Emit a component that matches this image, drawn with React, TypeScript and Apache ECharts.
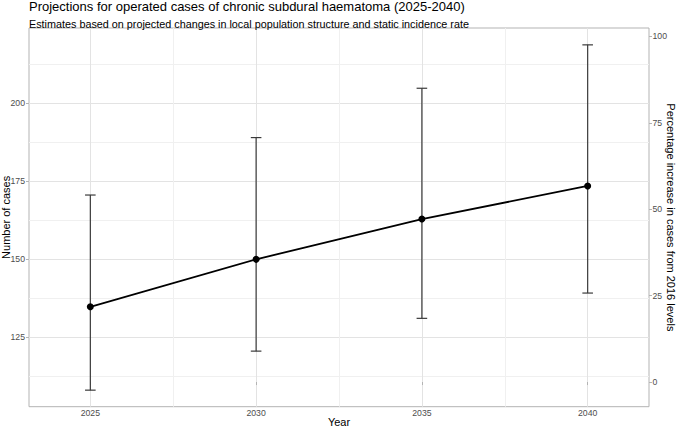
import React, { useEffect, useRef } from "react";
import * as echarts from "echarts";

const TITLE = "Projections for operated cases of chronic subdural haematoma (2025-2040)";
const SUBTITLE = "Estimates based on projected changes in local population structure and static incidence rate";

const years = [2025, 2030, 2035, 2040];
const cases = [134.8, 150.0, 162.9, 173.5];
const lower = [108.1, 120.6, 131.1, 139.2];
const upper = [170.6, 189.0, 204.8, 218.7];
const baseline2016 = 110.7;

const xTicks = [2025, 2030, 2035, 2040];
const xMinor = [2027.5, 2032.5, 2037.5];
const yTicks = [125, 150, 175, 200];
const yMinor = [112.5, 137.5, 162.5, 187.5, 212.5];
const pctTicks = [0, 25, 50, 75, 100];

const X_MIN = 2023.15;
const X_MAX = 2041.85;
const Y_MIN = 102.8;
const Y_MAX = 224.1;
const P_MIN = (Y_MIN / baseline2016 - 1) * 100;
const P_MAX = (Y_MAX / baseline2016 - 1) * 100;

const FONT = "'Liberation Sans', Arial, Helvetica, sans-serif";
const fmt = (v: number) => String(v);

export default function App() {
  const ref = useRef<HTMLDivElement>(null);
  useEffect(() => {
    if (!ref.current) return;
    const chart = echarts.init(ref.current, undefined, { renderer: "svg" });
    const errData = years.map((y, i) => [y, lower[i], upper[i]]);
    const lineData = years.map((y, i) => [y, cases[i]]);
    const option: any = {
      animation: false,
      textStyle: { fontFamily: FONT },
      title: [
        { text: TITLE, left: 29, top: 0, padding: 0, textStyle: { fontFamily: FONT, fontSize: 13, fontWeight: "normal", color: "#000" } },
        { text: SUBTITLE, left: 29, top: 18, padding: 0, textStyle: { fontFamily: FONT, fontSize: 10.8, fontWeight: "normal", color: "#000" } },
      ],
      grid: {
        left: 29, top: 28, width: 620, height: 378.7,
        containLabel: false, outerBoundsMode: "none",
        show: true, borderColor: "#b3b3b3", borderWidth: 1, backgroundColor: "transparent",
      },
      xAxis: [
        {
          type: "value", min: X_MIN, max: X_MAX, position: "bottom",
          name: "Year", nameLocation: "middle", nameGap: 10, nameMoveOverlap: false,
          nameTextStyle: { fontFamily: FONT, fontSize: 11, color: "#000" },
          axisLine: { show: false },
          axisTick: { show: true, length: 3, lineStyle: { color: "#b3b3b3" }, customValues: xTicks },
          axisLabel: { customValues: xTicks, formatter: fmt, fontFamily: FONT, fontSize: 8.7, color: "#4d4d4d", margin: 2 },
          splitLine: { show: true, lineStyle: { color: "#e3e3e3", width: 1 } },
        },
        {
          type: "value", min: X_MIN, max: X_MAX, position: "bottom",
          axisLine: { show: false },
          axisTick: { show: false, customValues: xMinor },
          axisLabel: { show: false, customValues: xMinor },
          splitLine: { show: true, lineStyle: { color: "#f0f0f0", width: 1 } },
        },
      ],
      yAxis: [
        {
          type: "value", min: Y_MIN, max: Y_MAX, position: "left",
          name: "Number of cases", nameLocation: "middle", nameGap: 18, nameRotate: 90, nameMoveOverlap: false,
          nameTextStyle: { fontFamily: FONT, fontSize: 11, color: "#000" },
          axisLine: { show: false },
          axisTick: { show: true, length: 3, lineStyle: { color: "#b3b3b3" }, customValues: yTicks },
          axisLabel: { customValues: yTicks, formatter: fmt, fontFamily: FONT, fontSize: 8.7, color: "#4d4d4d", margin: 4 },
          splitLine: { show: true, lineStyle: { color: "#e3e3e3", width: 1 } },
        },
        {
          type: "value", min: P_MIN, max: P_MAX, position: "right",
          name: "Percentage increase in cases from 2016 levels", nameLocation: "middle", nameGap: 16.5, nameRotate: -90, nameMoveOverlap: false,
          nameTextStyle: { fontFamily: FONT, fontSize: 11, color: "#000" },
          axisLine: { show: false },
          axisTick: { show: true, length: 3, lineStyle: { color: "#b3b3b3" }, customValues: pctTicks },
          axisLabel: { customValues: pctTicks, formatter: fmt, fontFamily: FONT, fontSize: 8.7, color: "#4d4d4d", margin: 3.5 },
          splitLine: { show: false },
        },
        {
          type: "value", min: Y_MIN, max: Y_MAX, position: "left",
          axisLine: { show: false },
          axisTick: { show: false, customValues: yMinor },
          axisLabel: { show: false, customValues: yMinor },
          splitLine: { show: true, lineStyle: { color: "#f0f0f0", width: 1 } },
        },
      ],
      series: [
        {
          type: "custom",
          xAxisIndex: 0,
          yAxisIndex: 0,
          data: errData,
          renderItem: (params: any, api: any) => {
            const x = api.value(0);
            const lo = api.coord([x, api.value(1)]);
            const hi = api.coord([x, api.value(2)]);
            const hw = 5.3;
            const style = { stroke: "#3a3a3a", lineWidth: 1.2 };
            return {
              type: "group",
              children: [
                { type: "line", shape: { x1: lo[0], y1: lo[1], x2: hi[0], y2: hi[1] }, style },
                { type: "line", shape: { x1: hi[0] - hw, y1: hi[1], x2: hi[0] + hw, y2: hi[1] }, style },
                { type: "line", shape: { x1: lo[0] - hw, y1: lo[1], x2: lo[0] + hw, y2: lo[1] }, style },
              ],
            };
          },
          z: 2,
        },
        {
          type: "line",
          xAxisIndex: 0,
          yAxisIndex: 0,
          data: lineData,
          symbol: "circle",
          symbolSize: 7,
          itemStyle: { color: "#000" },
          lineStyle: { color: "#000", width: 1.8 },
          z: 3,
        },
      ],
    };
    chart.setOption(option);
    return () => chart.dispose();
  }, []);
  return (
    <div
      ref={ref}
      style={{ position: "absolute", left: 0, top: 0, width: 676, height: 428, background: "#fff" }}
    />
  );
}
